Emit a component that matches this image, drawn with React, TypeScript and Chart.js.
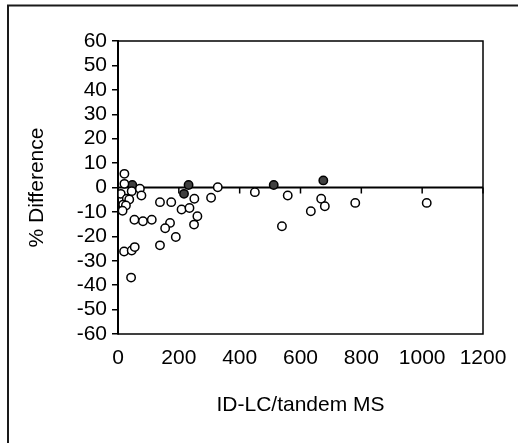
import React, { useEffect, useRef } from "react";
import { Chart, registerables } from "chart.js";

Chart.register(...registerables);

const openX = [21, 21, 9, 45, 72, 77, 29, 37, 17, 26, 15, 138, 175, 54, 82, 111, 328, 251, 306, 209, 235, 261, 250, 171, 155, 190, 138, 20, 45, 55, 43, 450, 558, 539, 668, 680, 634, 780, 1015];
const openY = [5.6, 1.5, -2.6, -1.5, -0.5, -3.3, -4.6, -4.9, -7, -7.4, -9.5, -6, -6, -13.2, -13.8, -13.2, 0.1, -4.6, -4.2, -9, -8.4, -11.8, -15.2, -14.5, -16.7, -20.3, -23.7, -26.2, -25.8, -24.4, -36.9, -1.9, -3.3, -15.9, -4.6, -7.7, -9.7, -6.3, -6.3];
const filledX = [47, 217, 232, 512, 675];
const filledY = [1.0, -2.6, 1.0, 1.0, 2.9];

const xMin = 0, xMax = 1200, xStep = 200;
const yMin = -60, yMax = 60, yStep = 10;
const xTitle = "ID-LC/tandem MS";
const yTitle = "% Difference";

const FONT = "'Liberation Sans', Arial, sans-serif";

const framePlugin = {
  id: "framePlugin",
  beforeDatasetsDraw(chart: any) {
    const { ctx, chartArea, scales } = chart;
    const y0 = scales.y.getPixelForValue(0);
    ctx.save();
    ctx.strokeStyle = "#000";
    ctx.lineWidth = 1.8;
    ctx.beginPath();
    ctx.moveTo(chartArea.left, y0);
    ctx.lineTo(chartArea.right, y0);
    ctx.stroke();
    ctx.lineWidth = 1.5;
    for (let v = xMin; v <= xMax; v += xStep) {
      const px = scales.x.getPixelForValue(v);
      ctx.beginPath();
      ctx.moveTo(px, y0);
      ctx.lineTo(px, y0 + 6);
      ctx.stroke();
    }
    ctx.restore();
  },
  afterDraw(chart: any) {
    const { ctx, chartArea } = chart;
    ctx.save();
    ctx.strokeStyle = "#000";
    ctx.lineWidth = 1.5;
    ctx.strokeRect(chartArea.left, chartArea.top, chartArea.right - chartArea.left, chartArea.bottom - chartArea.top);
    ctx.lineWidth = 2;
    ctx.strokeStyle = "#1a1a1a";
    ctx.strokeRect(8, 5.5, 700, 700);
    ctx.restore();
  },
};

export default function App() {
  const ref = useRef<HTMLCanvasElement>(null);
  useEffect(() => {
    if (!ref.current) return;
    const chart = new Chart(ref.current, {
      type: "scatter",
      data: {
        datasets: [
          {
            data: openX.map((x, i) => ({ x, y: openY[i] })),
            backgroundColor: "#ffffff",
            borderColor: "#000000",
            borderWidth: 1.5,
            pointRadius: 4.2,
          },
          {
            data: filledX.map((x, i) => ({ x, y: filledY[i] })),
            backgroundColor: "#404040",
            borderColor: "#000000",
            borderWidth: 1.5,
            pointRadius: 4.2,
          },
        ],
      },
      plugins: [framePlugin],
      options: {
        responsive: false,
        animation: false,
        devicePixelRatio: 1,
        layout: { padding: { left: 0, top: 41, right: 35, bottom: 25 } },
        plugins: { legend: { display: false }, tooltip: { enabled: false } },
        scales: {
          x: {
            type: "linear",
            min: xMin,
            max: xMax,
            afterFit: (s: any) => { s.height = 84; },
            grid: { display: false },
            border: { display: false },
            ticks: {
              stepSize: xStep, color: "#000", padding: 4, autoSkip: false, maxRotation: 0,
              font: { family: FONT, size: 21 },
              callback: (v: any) => String(v),
            },
            title: { display: true, text: xTitle, color: "#000", font: { family: FONT, size: 21 }, padding: { top: 0, bottom: 0 } },
          },
          y: {
            type: "linear",
            min: yMin,
            max: yMax,
            afterFit: (s: any) => { s.width = 118; },
            grid: { display: true, drawOnChartArea: false, drawTicks: true, tickLength: 6, color: "#000", lineWidth: 1.5 },
            border: { display: true, color: "#000", width: 2 },
            ticks: {
              stepSize: yStep, color: "#000", padding: 5, autoSkip: false,
              font: { family: FONT, size: 21 },
              callback: (v: any) => String(v),
            },
            title: { display: true, text: yTitle, color: "#000", font: { family: FONT, size: 21 }, padding: { top: 25, bottom: 0 } },
          },
        },
      },
    });
    return () => chart.destroy();
  }, []);
  return (
    <div style={{ position: "absolute", left: 0, top: 0, width: 518, height: 443, background: "#fff" }}>
      <canvas ref={ref} width={518} height={443} />
    </div>
  );
}
